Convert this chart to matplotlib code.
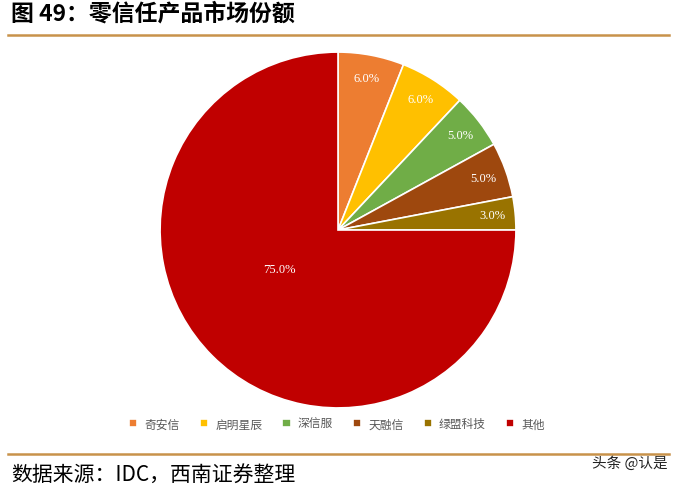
import numpy as np
import matplotlib.pyplot as plt
from matplotlib.lines import Line2D

plt.rcParams['font.family'] = ['Noto Sans CJK SC', 'DejaVu Sans']

names = ['奇安信', '启明星辰', '深信服', '天融信', '绿盟科技', '其他']
shares = [6.0, 6.0, 5.0, 5.0, 3.0, 75.0]
colors = ['#ED7D31', '#FFC000', '#70AD47', '#9E480E', '#997300', '#C00000']

fig = plt.figure(figsize=(6.74, 4.89), dpi=100)

# title + rules
fig.text(0.016, 0.972, '图 49：零信任产品市场份额', fontsize=16.5, fontweight='bold',
         va='center', ha='left', color='black')
fig.add_artist(Line2D([0.012, 0.993], [0.926, 0.926], color='#C8924A', lw=1.8))
fig.add_artist(Line2D([0.012, 0.993], [0.069, 0.069], color='#C8924A', lw=1.8))
fig.text(0.016, 0.028, '数据来源：IDC，西南证券整理', fontsize=15, style='italic',
         va='center', ha='left', color='black')
fig.text(0.99, 0.052, '头条 @认是', fontsize=10.5, va='center', ha='right', color='#222222')

ax = fig.add_axes([0.2375, 0.1636, 0.528, 0.728])
wedges, texts, autotexts = ax.pie(shares, colors=colors, startangle=90, counterclock=False,
                                  autopct='%1.1f%%', pctdistance=0.87,
                                  wedgeprops=dict(edgecolor='white', linewidth=1.2),
                                  textprops=dict(color='white', fontsize=9,
                                                 family=['Liberation Serif', 'DejaVu Serif']))
# big slice label sits closer to the centre (like excel's placement)
x, y = autotexts[-1].get_position()
autotexts[-1].set_position((x * 0.54, y * 0.36))
ax.set_xlim(-1.0, 1.0)
ax.set_ylim(-1.0, 1.0)
ax.set_aspect('equal')

leg = ax.legend(wedges, names, loc='center', bbox_to_anchor=(0.5, 0.131),
                bbox_transform=fig.transFigure, ncol=6, frameon=False,
                fontsize=8.5, handlelength=0.7, handleheight=0.7,
                handletextpad=0.6, columnspacing=1.7)
for t in leg.get_texts():
    t.set_color('#595959')

fig.savefig('out.png', dpi=100)
